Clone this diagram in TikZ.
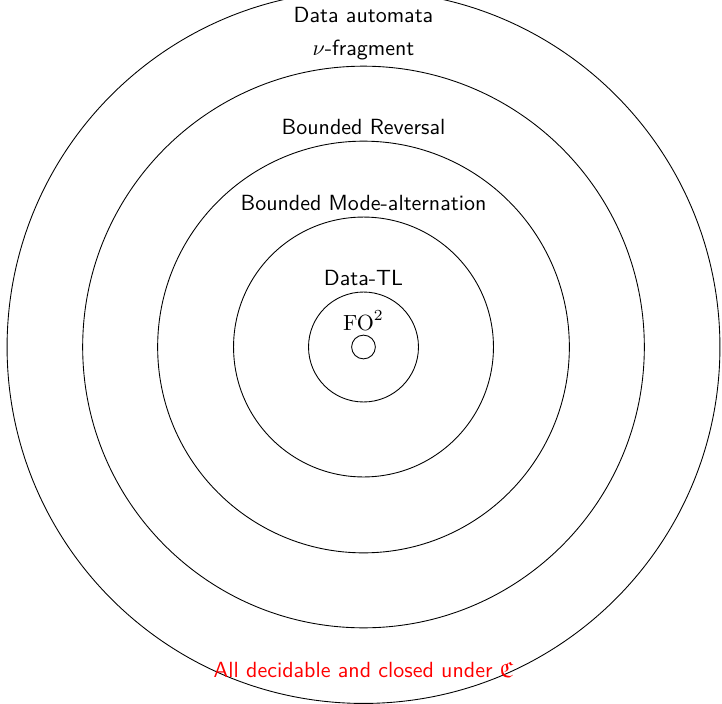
\documentclass[tikz,border=0pt]{standalone}
\usepackage{amsmath}
\usepackage{amssymb}
\usetikzlibrary{positioning}
\definecolor{claimred}{RGB}{255,0,0}

\begin{document}
\begin{tikzpicture}[
    x=0.016cm, y=-0.016cm,
    ring/.style={circle, draw, thin, inner sep=0pt},
    tag/.style={font=\sffamily, inner sep=1pt}
]
    \useasboundingbox (0,0) rectangle (722,703);
    \coordinate (c) at (363.5,347);

    % Nested classes
    \node[ring, minimum size=11.41cm] (automata) at (c) {};
    \node[ring, minimum size=8.99cm]  (nufrag)   at (c) {};
    \node[ring, minimum size=6.59cm]  (reversal) at (c) {};
    \node[ring, minimum size=4.16cm]  (modealt)  at (c) {};
    \node[ring, minimum size=1.76cm]  (datatl)   at (c) {};
    \node[ring, minimum size=0.38cm]  (fotwo)    at (c) {};

    % Labels
    \node[tag] (automatalbl) at (363.5,15) {Data automata};
    \node[tag, above=0.05cm of nufrag]   (nufraglbl)   {$\nu$-fragment};
    \node[tag, above=0.05cm of reversal] (reversallbl) {Bounded Reversal};
    \node[tag, above=0.05cm of modealt]  (modealtlbl)  {Bounded Mode-alternation};
    \node[tag, above=0.05cm of datatl]   (datatllbl)   {Data-TL};
    \node[inner sep=1pt, above=0.03cm of fotwo] (fotwolbl) {$\mathrm{FO}^2$};

    \node[tag, text=claimred] (claim) at (363.5,670)
        {All decidable and closed under $\mathfrak{C}$};
\end{tikzpicture}
\end{document}
